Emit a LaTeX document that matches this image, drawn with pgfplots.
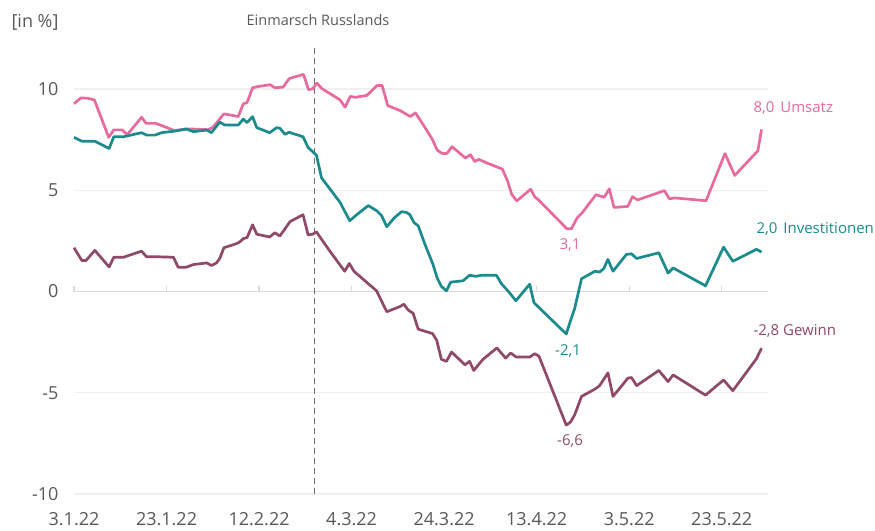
\documentclass[border=0pt]{standalone}
\usepackage{fontspec}
\setmainfont{Open Sans}
\usepackage{pgfplots}
\pgfplotsset{compat=1.18}
\usepackage{pgfplotstable}
\definecolor{umsatz}{HTML}{E86BA0}
\definecolor{invest}{HTML}{1B8B8B}
\definecolor{gewinn}{HTML}{8E4A68}
\definecolor{textgray}{HTML}{595959}
\definecolor{gridgray}{HTML}{F0F0F0}
\definecolor{zerogray}{HTML}{D9D9D9}
\definecolor{dashgray}{HTML}{6E6E6E}

\pgfplotstableread{
d v
0 9.27
1.5 9.56
3 9.54
4.4 9.46
7.5 7.61
8.6 7.98
10.4 7.98
11.5 7.74
14.6 8.60
15.6 8.30
17.7 8.30
21.8 7.94
23.9 8.02
25.7 8.02
29 7.99
30 8.10
32.4 8.77
35.5 8.64
36.6 9.27
37.4 9.32
38.6 10.06
39.8 10.12
42.4 10.21
43.4 10.06
45.2 10.09
46.5 10.51
48.1 10.62
49.6 10.72
50.7 9.96
51.6 10.01
52.5 10.29
53.6 10.01
55.4 9.76
57.5 9.46
58.6 9.10
59.7 9.63
60.8 9.59
63.3 9.68
65.5 10.17
66.6 10.17
67.8 9.18
70.5 8.93
72.7 8.64
73.8 8.82
75.6 8.19
77.4 7.53
78.5 6.98
79.6 6.81
80.6 6.81
81.7 7.15
84.6 6.59
85.7 6.75
86.6 6.42
87.5 6.52
89.3 6.34
92.6 6.04
93.7 5.46
94.6 4.80
95.7 4.47
98.7 5.05
99.6 4.67
100.5 4.50
106.5 3.10
107.5 3.10
108.8 3.65
109.9 3.90
112.8 4.78
114.6 4.65
115.7 5.07
116.7 4.15
119.7 4.20
120.7 4.68
121.8 4.52
127.6 4.98
128.7 4.57
129.8 4.62
136.6 4.48
140.7 6.81
142.8 5.73
147.8 6.94
148.6 8.0
}\umsatztab

\pgfplotstableread{
d v
0 7.61
1.7 7.42
4.5 7.42
7.6 7.06
8.6 7.64
10.7 7.64
14.6 7.84
15.7 7.72
17.5 7.72
18.9 7.84
21.8 7.92
24.3 8.02
25.8 7.89
28.7 7.97
29.7 7.84
31.5 8.36
32.6 8.22
35.5 8.22
36.6 8.51
37.4 8.34
38.6 8.63
39.5 8.09
42.3 7.84
43.8 8.09
44.5 8.06
45.6 7.76
46.5 7.86
49.5 7.64
50.6 7.11
52.4 6.73
53.5 5.61
57.5 4.40
59.6 3.49
61.1 3.79
63.6 4.24
65.4 3.99
66.5 3.74
67.6 3.20
69.3 3.65
70.8 3.94
71.9 3.90
72.6 3.79
73.5 3.40
74.4 3.24
75.8 2.36
77.6 1.33
78.5 0.66
79.4 0.25
80.5 0.03
81.4 0.46
84.1 0.53
85.5 0.80
86.8 0.75
88.1 0.80
91.3 0.80
92.4 0.38
94.2 -0.08
95.5 -0.46
98.5 0.36
99.4 -0.55
106.4 -2.10
107.3 -1.45
108.2 -0.85
109.7 0.63
112.6 1.00
113.6 0.96
114.5 1.13
115.4 1.58
116.5 1.00
119.4 1.83
120.5 1.86
121.6 1.63
126.4 1.91
128.4 0.91
129.5 1.16
136.5 0.28
140.4 2.19
142.4 1.49
147.5 2.08
148.6 1.95
}\investtab

\pgfplotstableread{
d v
0 2.16
1.7 1.53
2.6 1.53
4.5 2.03
7.6 1.21
8.6 1.69
10.7 1.69
14.6 1.99
15.7 1.71
18.6 1.71
21.5 1.69
22.5 1.20
24.3 1.20
25.8 1.33
28.7 1.41
29.7 1.28
30.8 1.41
31.5 1.63
32.4 2.16
35.1 2.36
35.9 2.46
36.6 2.61
37.4 2.66
38.6 3.29
39.5 2.83
42.3 2.69
43.4 2.90
44.5 2.74
46.7 3.45
49.5 3.79
50.6 2.79
51.6 2.83
52.4 2.94
55.3 1.99
58.5 1.00
59.5 1.38
60.5 1.00
65.4 0.03
67.6 -1.00
70.4 -0.75
71.3 -0.63
72.2 -0.91
73.3 -1.08
74.4 -1.86
75.8 -1.96
77.5 -2.08
78.4 -2.41
79.4 -3.35
80.5 -3.45
81.6 -2.99
84.5 -3.62
85.5 -3.45
86.4 -3.90
88.4 -3.35
91.4 -2.79
93.3 -3.29
94.4 -3.04
95.6 -3.24
98.5 -3.24
99.6 -3.07
100.5 -3.20
106.4 -6.60
107.3 -6.45
108.2 -6.10
109.7 -5.18
112.6 -4.82
113.6 -4.65
115.4 -4.02
116.5 -5.18
118.7 -4.57
119.7 -4.28
120.5 -4.25
121.6 -4.65
126.4 -3.90
128.4 -4.45
129.5 -4.12
136.5 -5.12
140.4 -4.37
142.4 -4.90
147.5 -3.32
148.6 -2.80
}\gewinntab

\begin{document}
\begin{tikzpicture}
\useasboundingbox (-74pt,-36pt) rectangle (801pt,494pt);
\begin{axis}[
  at={(0,0)}, anchor=south west,
  scale only axis, width=694pt, height=449.6pt,
  xmin=0, xmax=150, ymin=-10, ymax=12.2,
  axis line style={draw=none},
  xtick={0,20,...,140},
  xticklabels={3.1.22,23.1.22,12.2.22,4.3.22,24.3.22,13.4.22,3.5.22,23.5.22},
  ytick={-10,-5,0,5,10},
  yticklabels={-10,-5,0,5,10},
  major tick length=0pt,
  ymajorgrids, grid style={color=gridgray, line width=1.2pt},
  tick label style={font=\fontsize{18}{20}\selectfont, text=textgray},
  yticklabel style={xshift=-12pt},
  xticklabel style={yshift=-15pt},
  clip=false,
  /pgf/number format/assume math mode=true,
]
\draw[zerogray, line width=1.6pt] (axis cs:0,0) -- (axis cs:150,0);
\draw[zerogray, line width=1.4pt] (axis cs:0,0) -- (axis cs:0,0.28);
\draw[zerogray, line width=1.4pt] (axis cs:20,0) -- (axis cs:20,0.28);
\draw[zerogray, line width=1.4pt] (axis cs:40,0) -- (axis cs:40,0.28);
\draw[zerogray, line width=1.4pt] (axis cs:60,0) -- (axis cs:60,0.28);
\draw[zerogray, line width=1.4pt] (axis cs:80,0) -- (axis cs:80,0.28);
\draw[zerogray, line width=1.4pt] (axis cs:100,0) -- (axis cs:100,0.28);
\draw[zerogray, line width=1.4pt] (axis cs:120,0) -- (axis cs:120,0.28);
\draw[zerogray, line width=1.4pt] (axis cs:140,0) -- (axis cs:140,0.28);
\draw[dashgray, line width=1.7pt, dash pattern=on 6pt off 4pt] (axis cs:52,-10) -- (axis cs:52,12.2);
\addplot[umsatz, line width=2.7pt, line join=round, mark=none] table[x=d,y=v] {\umsatztab};
\addplot[invest, line width=2.7pt, line join=round, mark=none] table[x=d,y=v] {\investtab};
\addplot[gewinn, line width=2.7pt, line join=round, mark=none] table[x=d,y=v] {\gewinntab};
\end{axis}
\node[anchor=west, text=textgray, font=\fontsize{18}{20}\selectfont] at (-66pt,472pt) {[in \%]};
\node[text=textgray, font=\fontsize{14.5}{16}\selectfont] at (244pt,474pt) {Einmarsch Russlands};
\node[anchor=west, text=umsatz, font=\fontsize{15}{17}\selectfont] at (676pt,386pt) {8,0\hspace{6pt}Umsatz};
\node[anchor=west, text=invest, font=\fontsize{15}{17}\selectfont] at (679pt,265pt) {2,0\hspace{6pt}Investitionen};
\node[anchor=west, text=gewinn, font=\fontsize{15}{17}\selectfont] at (676pt,163pt) {-2,8 Gewinn};
\node[text=umsatz, font=\fontsize{15}{17}\selectfont] at (496pt,249pt) {3,1};
\node[text=invest, font=\fontsize{15}{17}\selectfont] at (494pt,143pt) {-2,1};
\node[text=gewinn, font=\fontsize{15}{17}\selectfont] at (496pt,53pt) {-6,6};
\end{tikzpicture}
\end{document}
